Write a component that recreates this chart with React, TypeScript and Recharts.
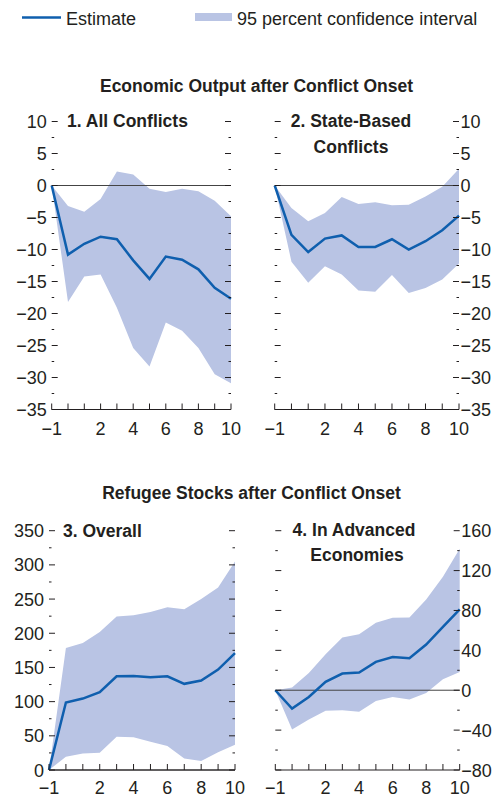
import React from "react";
import { ComposedChart, Area, Line, XAxis, YAxis, ReferenceLine } from "recharts";

const FONT = "'Liberation Sans', Arial, Helvetica, sans-serif";
const BLUE = "#0f5fae";
const BAND = "#b9c4e4";
const INK = "#231f20";

const periods = [-1, 0, 1, 2, 3, 4, 5, 6, 7, 8, 9, 10];
const xLabels = [-1, 2, 4, 6, 8, 10];

// 1. All Conflicts
const allEst = [0, -10.8, -9.1, -8.0, -8.4, -11.7, -14.6, -11.1, -11.6, -13.1, -16.0, -17.7];
const allUp = [0, -3.2, -4.1, -2.1, 2.2, 1.7, -0.5, -1.0, -0.5, -0.9, -2.4, -4.8];
const allLo = [0, -18.2, -14.2, -13.9, -19.1, -25.4, -28.3, -21.4, -22.7, -25.4, -29.5, -30.9];

// 2. State-Based Conflicts
const stateEst = [0, -7.7, -10.4, -8.3, -7.8, -9.6, -9.6, -8.4, -10.0, -8.7, -7.0, -4.7];
const stateUp = [0, -3.5, -5.6, -4.3, -1.8, -2.9, -2.6, -3.1, -3.0, -1.7, -0.2, 2.6];
const stateLo = [0, -11.9, -15.2, -12.6, -13.9, -16.4, -16.6, -14.0, -16.8, -16.0, -14.7, -12.2];

// 3. Overall refugee stocks
const overallEst = [0, 98.7, 104.5, 113.8, 137, 137.6, 135.6, 137, 126, 130.8, 146.8, 171];
const overallUp = [0, 178.4, 185.7, 201.7, 224.6, 226.5, 231, 238, 235, 250, 267, 305];
const overallLo = [0, 19.4, 24.3, 25.3, 48.6, 48, 41.3, 35, 17, 13, 26, 37];

// 4. In advanced economies
const advEst = [0, -18.4, -6.7, 8.4, 16.7, 17.7, 28.4, 33.4, 32.1, 45.8, 63.5, 81];
const advUp = [0, 2.7, 17.4, 36.1, 52.8, 56.2, 67.6, 72.6, 72.9, 91, 113.7, 142];
const advLo = [0, -39.5, -29.4, -20.7, -20, -21.7, -10.7, -6.7, -9.4, -2.7, 11, 18.4];

const outputTicks = [-35, -32.5, -30, -27.5, -25, -22.5, -20, -17.5, -15, -12.5, -10, -7.5, -5, -2.5, 0, 2.5, 5, 7.5, 10];
const overallTicks = [0, 25, 50, 75, 100, 125, 150, 175, 200, 225, 250, 275, 300, 325, 350];
const advTicks = [-80, -60, -40, -20, 0, 20, 40, 60, 80, 100, 120, 140, 160];

function buildRows(est: number[], up: number[], lo: number[]) {
  return periods.map((p, i) => ({ p, est: est[i], band: [lo[i], up[i]] }));
}

function fmt(v: number) {
  return v < 0 ? `\u2212${Math.abs(v)}` : `${v}`;
}

function makeYTick(side: "left" | "right", labels: boolean, majorStep: number) {
  return (props: any) => {
    const { x, y, payload } = props;
    const v = payload.value;
    const major = Math.abs(v % majorStep) < 1e-6;
    const len = major ? 6 : 2.5;
    const dir = side === "left" ? 1 : -1;
    return (
      <g>
        <line x1={x} x2={x + dir * len} y1={y} y2={y} stroke={INK} strokeWidth={1} />
        {labels && major && (
          <text
            x={side === "left" ? x - 5 : x + 1.5}
            y={y + 6.5}
            textAnchor={side === "left" ? "end" : "start"}
            fontSize={18}
            fontFamily={FONT}
            fill={INK}
          >
            {fmt(v)}
          </text>
        )}
      </g>
    );
  };
}

function makeXTick(dy: number) {
  return (props: any) => {
    const { x, y, payload } = props;
    const v = payload.value;
    return (
      <g>
        <line x1={x} x2={x} y1={y} y2={y - 6} stroke={INK} strokeWidth={1} />
        {xLabels.includes(v) && (
          <text x={x} y={y + dy} textAnchor="middle" fontSize={18} fontFamily={FONT} fill={INK}>
            {fmt(v)}
          </text>
        )}
      </g>
    );
  };
}

type PanelProps = {
  left: number;
  top: number;
  width: number;
  height: number;
  plotTop: number;
  leftW: number;
  rightW: number;
  xH: number;
  xDy: number;
  rows: any[];
  domain: [number, number];
  ticks: number[];
  majorStep: number;
  labelSide: "left" | "right";
};

function Panel(p: PanelProps) {
  return (
    <div style={{ position: "absolute", left: p.left, top: p.top }}>
      <ComposedChart
        width={p.width}
        height={p.height}
        data={p.rows}
        margin={{ top: p.plotTop, right: 0, bottom: 0, left: 0 }}
      >
        <XAxis
          dataKey="p"
          type="number"
          domain={[-1, 10]}
          ticks={periods}
          interval={0}
          height={p.xH}
          tickSize={0}
          tickMargin={0}
          tickLine={false}
          axisLine={{ stroke: INK, strokeWidth: 1 }}
          tick={makeXTick(p.xDy)}
        />
        <YAxis
          yAxisId="l"
          orientation="left"
          type="number"
          domain={p.domain}
          ticks={p.ticks}
          interval={0}
          width={p.leftW}
          tickSize={0}
          tickMargin={0}
          tickLine={false}
          axisLine={false}
          allowDataOverflow
          tick={makeYTick("left", p.labelSide === "left", p.majorStep)}
        />
        <YAxis
          yAxisId="r"
          orientation="right"
          type="number"
          domain={p.domain}
          ticks={p.ticks}
          interval={0}
          width={p.rightW}
          tickSize={0}
          tickMargin={0}
          tickLine={false}
          axisLine={false}
          allowDataOverflow
          tick={makeYTick("right", p.labelSide === "right", p.majorStep)}
        />
        <Area
          yAxisId="l"
          dataKey="band"
          type="linear"
          stroke="none"
          fill={BAND}
          fillOpacity={1}
          isAnimationActive={false}
        />
        <ReferenceLine yAxisId="l" y={0} stroke="#444" strokeWidth={1} />
        <Line
          yAxisId="l"
          dataKey="est"
          type="linear"
          stroke={BLUE}
          strokeWidth={2.5}
          dot={false}
          activeDot={false}
          isAnimationActive={false}
        />
      </ComposedChart>
    </div>
  );
}

export default function App() {
  const title = { fontFamily: FONT, fontWeight: 700, fontSize: 17.5, fill: INK } as const;
  return (
    <div style={{ position: "absolute", left: 0, top: 0, width: 493, height: 799, background: "#fff", overflow: "hidden" }}>
      <Panel
        left={0}
        top={100}
        width={250}
        height={345}
        plotTop={21.5}
        leftW={51.7}
        rightW={19}
        xH={35.5}
        xDy={25}
        rows={buildRows(allEst, allUp, allLo)}
        domain={[-35, 10]}
        ticks={outputTicks}
        majorStep={5}
        labelSide="left"
      />
      <Panel
        left={243}
        top={100}
        width={250}
        height={345}
        plotTop={21.5}
        leftW={31.7}
        rightW={34}
        xH={35.5}
        xDy={25}
        rows={buildRows(stateEst, stateUp, stateLo)}
        domain={[-35, 10]}
        ticks={outputTicks}
        majorStep={5}
        labelSide="right"
      />
      <Panel
        left={0}
        top={510}
        width={245}
        height={289}
        plotTop={20.7}
        leftW={49}
        rightW={10}
        xH={29}
        xDy={23.5}
        rows={buildRows(overallEst, overallUp, overallLo)}
        domain={[0, 350]}
        ticks={overallTicks}
        majorStep={50}
        labelSide="left"
      />
      <Panel
        left={243}
        top={510}
        width={250}
        height={289}
        plotTop={20.7}
        leftW={32.3}
        rightW={33.3}
        xH={29}
        xDy={23.5}
        rows={buildRows(advEst, advUp, advLo)}
        domain={[-80, 160]}
        ticks={advTicks}
        majorStep={40}
        labelSide="right"
      />
      <svg width={493} height={799} style={{ position: "absolute", left: 0, top: 0, pointerEvents: "none" }}>
        <line x1={22} x2={61} y1={17.5} y2={17.5} stroke={BLUE} strokeWidth={2.5} />
        <text x={66} y={25} fontFamily={FONT} fontSize={18} fill={INK}>Estimate</text>
        <rect x={195} y={13} width={37} height={8} fill={BAND} />
        <text x={237} y={25} fontFamily={FONT} fontSize={18} fill={INK}>95 percent confidence interval</text>

        <text x={256.5} y={92} textAnchor="middle" {...title}>Economic Output after Conflict Onset</text>
        <text x={251.5} y={499} textAnchor="middle" {...title}>Refugee Stocks after Conflict Onset</text>

        <text x={67} y={127} {...title}>1. All Conflicts</text>
        <text x={351} y={127} textAnchor="middle" {...title}>2. State-Based</text>
        <text x={351} y={153} textAnchor="middle" {...title}>Conflicts</text>

        <text x={63} y={537} {...title}>3. Overall</text>
        <text x={354} y={536} textAnchor="middle" {...title}>4. In Advanced</text>
        <text x={357} y={561} textAnchor="middle" {...title}>Economies</text>
      </svg>
    </div>
  );
}
